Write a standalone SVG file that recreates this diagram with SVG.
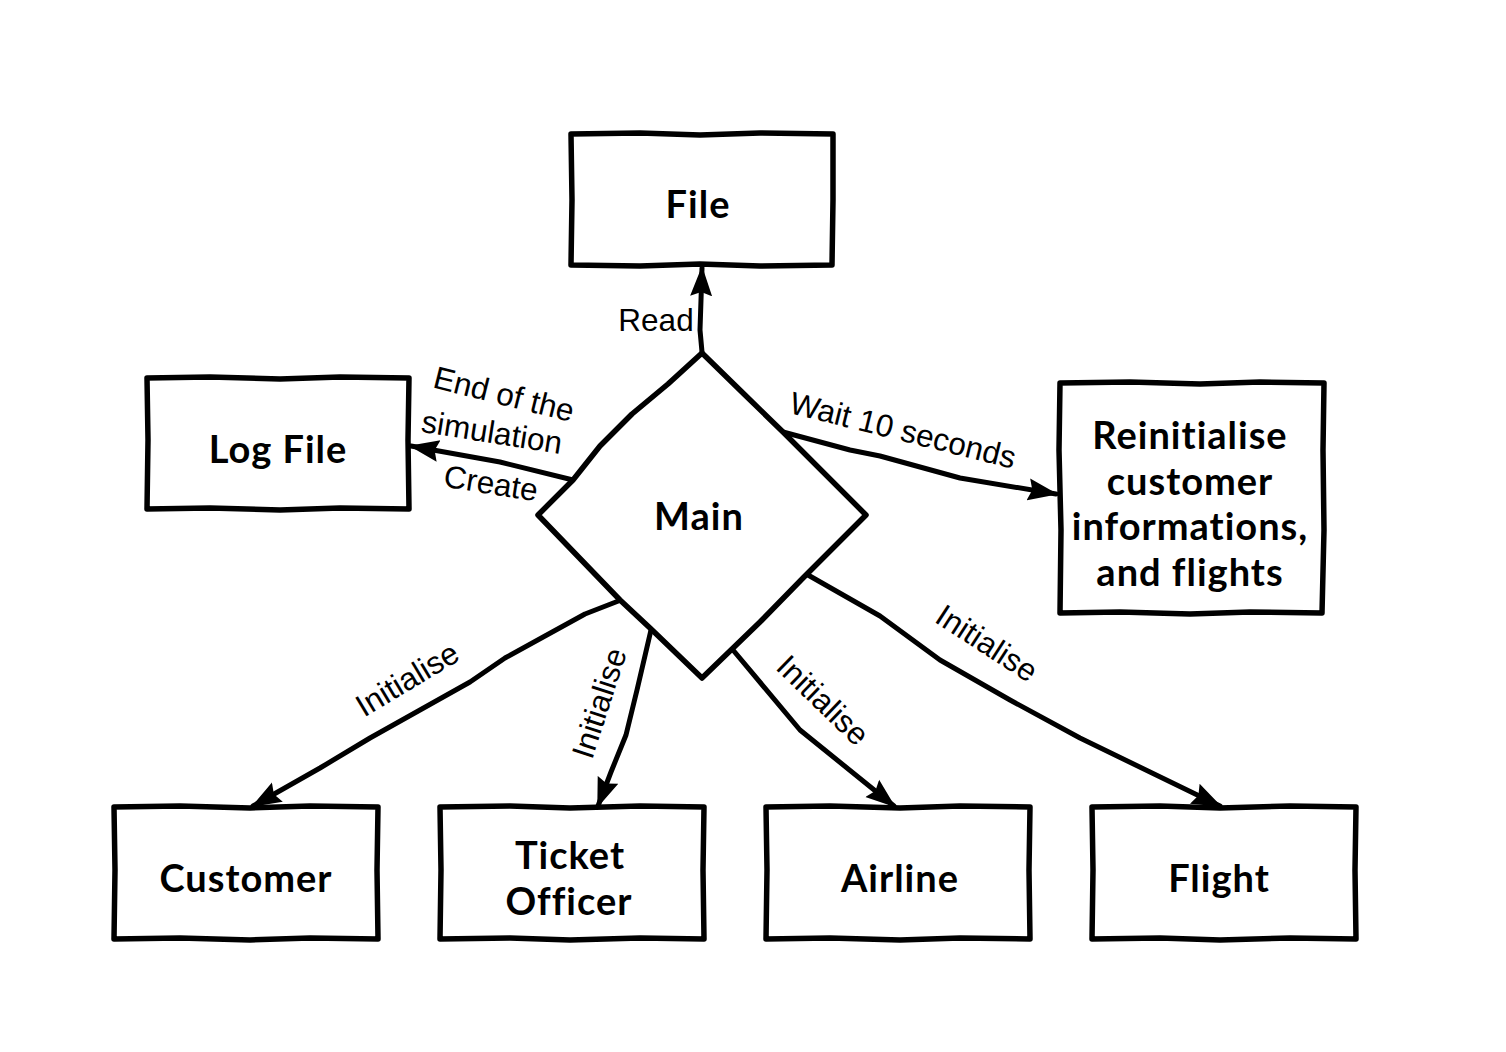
<svg xmlns="http://www.w3.org/2000/svg" width="1506" height="1052" viewBox="0 0 1506 1052">
<style>
.box{fill:#fff;stroke:#000;stroke-width:5.5;stroke-linejoin:round}
.edge{fill:none;stroke:#000;stroke-width:5;stroke-linejoin:round;stroke-linecap:round}
.nt{font-family:Lato,"DejaVu Sans",sans-serif;font-weight:bold;font-size:38px;letter-spacing:1px;text-anchor:middle;fill:#000}
.lb{font-family:"Liberation Sans",Arial,sans-serif;font-size:31.5px;text-anchor:middle;dominant-baseline:central;fill:#000}
</style>
<defs>
<marker id="ah" viewBox="0 0 30 24" refX="28" refY="12" markerWidth="30" markerHeight="24" markerUnits="userSpaceOnUse" orient="auto">
<path d="M0,1 L30,12 L0,23 L4,12 Z" fill="#000"/>
</marker>
</defs>
<rect width="1506" height="1052" fill="#fff"/>
<g id="connectors">
<path class="edge" marker-end="url(#ah)" d="M702,352 L700,330 L701,300 L702,268"/>
<path class="edge" marker-end="url(#ah)" d="M573,480 L500,462 L411,446"/>
<path class="edge" marker-end="url(#ah)" d="M783,432 L850,450 L880,456 L960,478 L1056,494"/>
<path class="edge" marker-end="url(#ah)" d="M621,600 L585,614 L545,636 L505,658 L470,682 L420,710 L370,738 L320,768 L253,806"/>
<path class="edge" marker-end="url(#ah)" d="M651,630 L637,690 L626,735 L611,772 L598,806"/>
<path class="edge" marker-end="url(#ah)" d="M733,650 L800,730 L894,806"/>
<path class="edge" marker-end="url(#ah)" d="M808,575 L880,616 L940,660 L1010,700 L1080,738 L1150,772 L1220,806"/>
<text class="lb" x="656" y="320">Read</text>
<text class="lb" transform="translate(504,394) rotate(14)">End of the</text>
<text class="lb" transform="translate(492,432) rotate(9)">simulation</text>
<text class="lb" transform="translate(491,483) rotate(9)">Create</text>
<text class="lb" transform="translate(903,430) rotate(14)">Wait 10 seconds</text>
<text class="lb" transform="translate(407,679) rotate(-31)">Initialise</text>
<text class="lb" transform="translate(599,703) rotate(-72)">Initialise</text>
<text class="lb" transform="translate(823,700) rotate(44)">Initialise</text>
<text class="lb" transform="translate(987,643) rotate(33)">Initialise</text>
</g>
<g id="file">
<path class="box" d="M571,134 L640,133 L700,135 L760,133 L833,134 L833,200 L832,265 L760,266 L700,264 L640,266 L571,265 L572,200 Z"/>
<text class="nt" x="698" y="218">File</text>
</g>
<g id="logfile">
<path class="box" d="M147,378 L210,377 L280,379 L340,377 L409,378 L408,440 L409,509 L340,508 L280,510 L210,508 L147,509 L148,440 Z"/>
<text class="nt" x="278" y="463">Log File</text>
</g>
<g id="main">
<path class="box" d="M702,353 L745,395 L783,432 L866,515 L803,578 L760,622 L702,678 L650,628 L620,600 L538,515 L573,480 L600,446 L632,414 L668,384 Z"/>
<text class="nt" x="699" y="530">Main</text>
</g>
<g id="reinit">
<path class="box" d="M1060,383 L1130,382 L1200,384 L1260,382 L1324,383 L1323,450 L1324,530 L1322,613 L1250,612 L1190,614 L1120,612 L1060,613 L1061,530 L1059,450 Z"/>
<text class="nt" x="1190" y="449">Reinitialise</text>
<text class="nt" x="1190" y="495">customer</text>
<text class="nt" x="1190" y="540">informations,</text>
<text class="nt" x="1190" y="586">and flights</text>
</g>
<g id="customer">
<path class="box" d="M114,807 L180,806 L250,808 L310,806 L378,807 L377,870 L378,939 L310,938 L250,940 L180,938 L114,939 L115,870 Z"/>
<text class="nt" x="246" y="892">Customer</text>
</g>
<g id="ticketofficer">
<path class="box" d="M440,807 L510,806 L570,808 L640,806 L704,807 L703,870 L704,939 L640,938 L570,940 L510,938 L440,939 L441,870 Z"/>
<text class="nt" x="570" y="869">Ticket</text>
<text class="nt" x="569" y="915">Officer</text>
</g>
<g id="airline">
<path class="box" d="M766,807 L830,806 L900,808 L960,806 L1030,807 L1029,870 L1030,939 L960,938 L900,940 L830,938 L766,939 L767,870 Z"/>
<text class="nt" x="900" y="892">Airline</text>
</g>
<g id="flight">
<path class="box" d="M1092,807 L1160,806 L1220,808 L1290,806 L1356,807 L1355,870 L1356,939 L1290,938 L1220,940 L1160,938 L1092,939 L1093,870 Z"/>
<text class="nt" x="1219" y="892">Flight</text>
</g>
</svg>
